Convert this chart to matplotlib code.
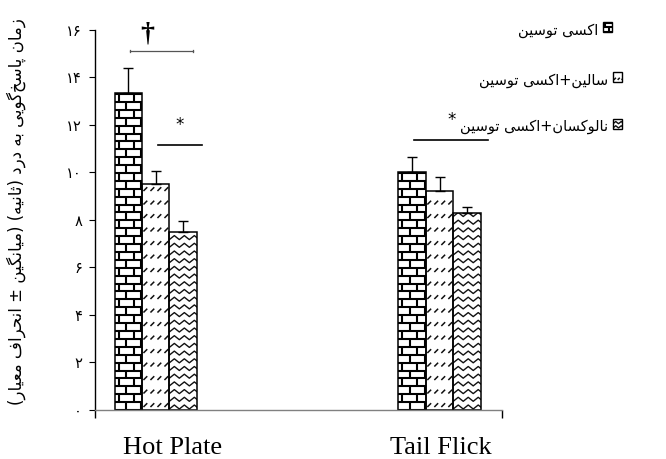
import numpy as np
import matplotlib
matplotlib.use('Agg')
import matplotlib.pyplot as plt
from matplotlib.patches import Rectangle
from matplotlib.collections import LineCollection
from matplotlib.transforms import IdentityTransform

# data (seconds, mean and upper SD)
categories = ['Hot Plate', 'Tail Flick']
series_names = ['اکسی توسین', 'سالین+اکسی توسین', 'نالوکسان+اکسی توسین']
oxytocin = [13.35, 10.0]
saline_oxytocin = [9.5, 9.2]
naloxone_oxytocin = [7.5, 8.27]
oxytocin_sd = [1.02, 0.63]
saline_sd = [0.57, 0.59]
naloxone_sd = [0.46, 0.25]
y_ticks = [0, 2, 4, 6, 8, 10, 12, 14, 16]
y_label = 'زمان پاسخ‌گویی به درد (ثانیه) (میانگین ± انحراف معیار)'
# significance marks: category, first bar, last bar, height, symbol
sig_cat = [0, 0, 1]
sig_from = [0, 1, 0]
sig_to = [2, 2, 2]
sig_level = [15.1, 11.15, 11.35]
sig_symbol = ['†', '*', '*']
sig_overhang = [0.37, 0.69, 0.78]   # line end past last bar centre, in bar widths

# minimal Persian shaping (matplotlib has no complex text layout)
FORMS = {
    'ا': ('\uFE8D', '\uFE8E', None, None),
    'ب': ('\uFE8F', '\uFE90', '\uFE91', '\uFE92'),
    'پ': ('\uFB56', '\uFB57', '\uFB58', '\uFB59'),
    'ت': ('\uFE95', '\uFE96', '\uFE97', '\uFE98'),
    'ث': ('\uFE99', '\uFE9A', '\uFE9B', '\uFE9C'),
    'ح': ('\uFEA1', '\uFEA2', '\uFEA3', '\uFEA4'),
    'خ': ('\uFEA5', '\uFEA6', '\uFEA7', '\uFEA8'),
    'د': ('\uFEA9', '\uFEAA', None, None),
    'ر': ('\uFEAD', '\uFEAE', None, None),
    'ز': ('\uFEAF', '\uFEB0', None, None),
    'س': ('\uFEB1', '\uFEB2', '\uFEB3', '\uFEB4'),
    'ع': ('\uFEC9', '\uFECA', '\uFECB', '\uFECC'),
    'ف': ('\uFED1', '\uFED2', '\uFED3', '\uFED4'),
    'ک': ('\uFB8E', '\uFB8F', '\uFB90', '\uFB91'),
    'گ': ('\uFB92', '\uFB93', '\uFB94', '\uFB95'),
    'ل': ('\uFEDD', '\uFEDE', '\uFEDF', '\uFEE0'),
    'م': ('\uFEE1', '\uFEE2', '\uFEE3', '\uFEE4'),
    'ن': ('\uFEE5', '\uFEE6', '\uFEE7', '\uFEE8'),
    'ه': ('\uFEE9', '\uFEEA', '\uFEEB', '\uFEEC'),
    'و': ('\uFEED', '\uFEEE', None, None),
    'ی': ('\uFBFC', '\uFBFD', '\uFBFE', '\uFBFF'),
}
MIRROR = {'(': ')', ')': '('}


def shape(text):
    out = []
    for i, ch in enumerate(text):
        if ch not in FORMS:
            if ch != '\u200c':
                out.append(MIRROR.get(ch, ch))
            continue
        iso, fin, ini, med = FORMS[ch]
        prev = text[i - 1] if i > 0 else ''
        nxt = text[i + 1] if i + 1 < len(text) else ''
        jp = prev in FORMS and FORMS[prev][2] is not None
        jn = ini is not None and nxt in FORMS
        if jp and jn:
            out.append(med)
        elif jp:
            out.append(fin)
        elif jn:
            out.append(ini)
        else:
            out.append(iso)
    return ''.join(reversed(out))


def fa_digits(n):
    return str(n).translate(str.maketrans('0123456789', '۰۱۲۳۴۵۶۷۸۹'))


def pattern(kind, patch, s=1.0):
    # fill texture in pixels, clipped to the patch
    bb = patch.get_window_extent()
    x0, y0, x1, y1 = bb.x0, bb.y0, bb.x1, bb.y1
    segs = []
    if kind == 'brick':
        h, w = 7.9 * s, 15.0 * s
        r = 0
        y = y0
        while y < y1:
            segs.append([(x0, y), (x1, y)])
            x = x0 + (11.5 * s if r % 2 == 0 else 4.0 * s)
            while x < x1:
                segs.append([(x, y), (x, y + h)])
                x += w
            y += h
            r += 1
        lw, col = 1.5, 'black'
    elif kind == 'dash':
        y = y0 + 3 * s
        while y < y1:
            x = x0 + 1.5 * s
            while x < x1:
                segs.append([(x, y), (x + 3.8 * s, y + 3.8 * s)])
                x += 7.0 * s
            y += 13.5 * s
        lw, col = 1.1, '#111111'
    else:
        p, a = 10.0 * s, 2.0 * s
        y = y0 + 3 * s
        while y < y1 + a:
            xs = np.arange(x0 - p, x1 + p, p / 2)
            ys = y + a * np.where(np.arange(len(xs)) % 2 == 0, -1, 1)
            segs.append(np.column_stack([xs, ys]))
            y += 7.7 * s
        lw, col = 1.0, '#111111'
    lc = LineCollection(segs, colors=col, linewidths=lw,
                        transform=IdentityTransform(), zorder=0.9)
    return lc


plt.rcParams['font.family'] = ['DejaVu Sans']

fig = plt.figure(figsize=(6.66, 4.59), dpi=100)
ax = fig.add_axes([95 / 666, 1 - 410 / 459, 407 / 666, 380.5 / 459])
ax.set_xlim(0, 2)
ax.set_ylim(0, 16)

group_pos = np.array([0.298, 1.693])
width = 0.1346
offsets = [-width, 0, width]
kinds = ['brick', 'dash', 'zigzag']
values = [oxytocin, saline_oxytocin, naloxone_oxytocin]
errors = [oxytocin_sd, saline_sd, naloxone_sd]

for k in range(3):
    bars = ax.bar(group_pos + offsets[k], values[k], width,
                  facecolor='none', edgecolor='black', linewidth=1.1,
                  yerr=[np.zeros(len(errors[k])), errors[k]],
                  error_kw=dict(ecolor='black', elinewidth=1.0,
                                capsize=3.6, capthick=1.0),
                  zorder=1)
    for b in bars:
        lc = pattern(kinds[k], b)
        ax.add_collection(lc)
        lc.set_clip_path(b)

# significance brackets
for c, i0, i1, lev, sym, oh in zip(sig_cat, sig_from, sig_to, sig_level,
                                   sig_symbol, sig_overhang):
    xa = group_pos[c] + offsets[i0] + 0.01
    xb = group_pos[c] + offsets[i1] + width * oh
    if sym == '†':
        ax.plot([xa, xb], [lev, lev], color='#555555', lw=0.9)
        ax.plot([xa, xa], [lev - 0.05, lev + 0.05], color='#555555', lw=0.9)
        ax.plot([xb, xb], [lev - 0.05, lev + 0.05], color='#555555', lw=0.9)
        ax.text(xa + 0.085, lev + 0.2, sym, ha='center', va='bottom',
                fontsize=20, fontweight='bold', family='Liberation Serif',
                clip_on=False)
    else:
        ax.plot([xa, xb], [lev, lev], color='black', lw=1.2)
        ax.text((xa + xb) / 2, lev + 0.85, sym, ha='center', va='center',
                fontsize=12)

for sp in ['top', 'right']:
    ax.spines[sp].set_visible(False)
ax.spines['left'].set_linewidth(1.0)
ax.spines['bottom'].set_color('#808080')
ax.spines['bottom'].set_linewidth(1.0)

ax.set_yticks(y_ticks)
ax.set_yticklabels([fa_digits(t) for t in y_ticks], fontsize=10.5)
ax.tick_params(axis='y', direction='out', length=4.3, width=0.8, pad=5)

ax.set_xticks([0.383, 1.70])
ax.set_xticklabels(categories, family='Liberation Serif', fontsize=19)
ax.tick_params(axis='x', length=0, pad=19.5)
ax.set_xticks([0, 2], minor=True)
ax.tick_params(axis='x', which='minor', length=5.5, width=1.0,
               color='black', direction='out')

fig.text(16 / 666, 1 - 212 / 459, shape(y_label), rotation=90,
         ha='center', va='center', fontsize=12)

# legend (boxes right of the text, right-to-left)
box_x = [603, 613, 613]
box_y = [27, 77, 124]
for k in range(3):
    bx, by = box_x[k], box_y[k]
    rect = Rectangle((bx / 666, 1 - (by + 4.5) / 459), 9 / 666, 9 / 459,
                     transform=fig.transFigure, facecolor='none',
                     edgecolor='black', linewidth=1.0, zorder=2)
    fig.add_artist(rect)
    lc = pattern(kinds[k], rect, s=0.55)
    fig.add_artist(lc)
    lc.set_clip_path(rect)
    fig.text((bx - 5) / 666, 1 - (by + 3) / 459, shape(series_names[k]),
             ha='right', va='center', fontsize=10.5)

fig.savefig('out.png', dpi=100)
